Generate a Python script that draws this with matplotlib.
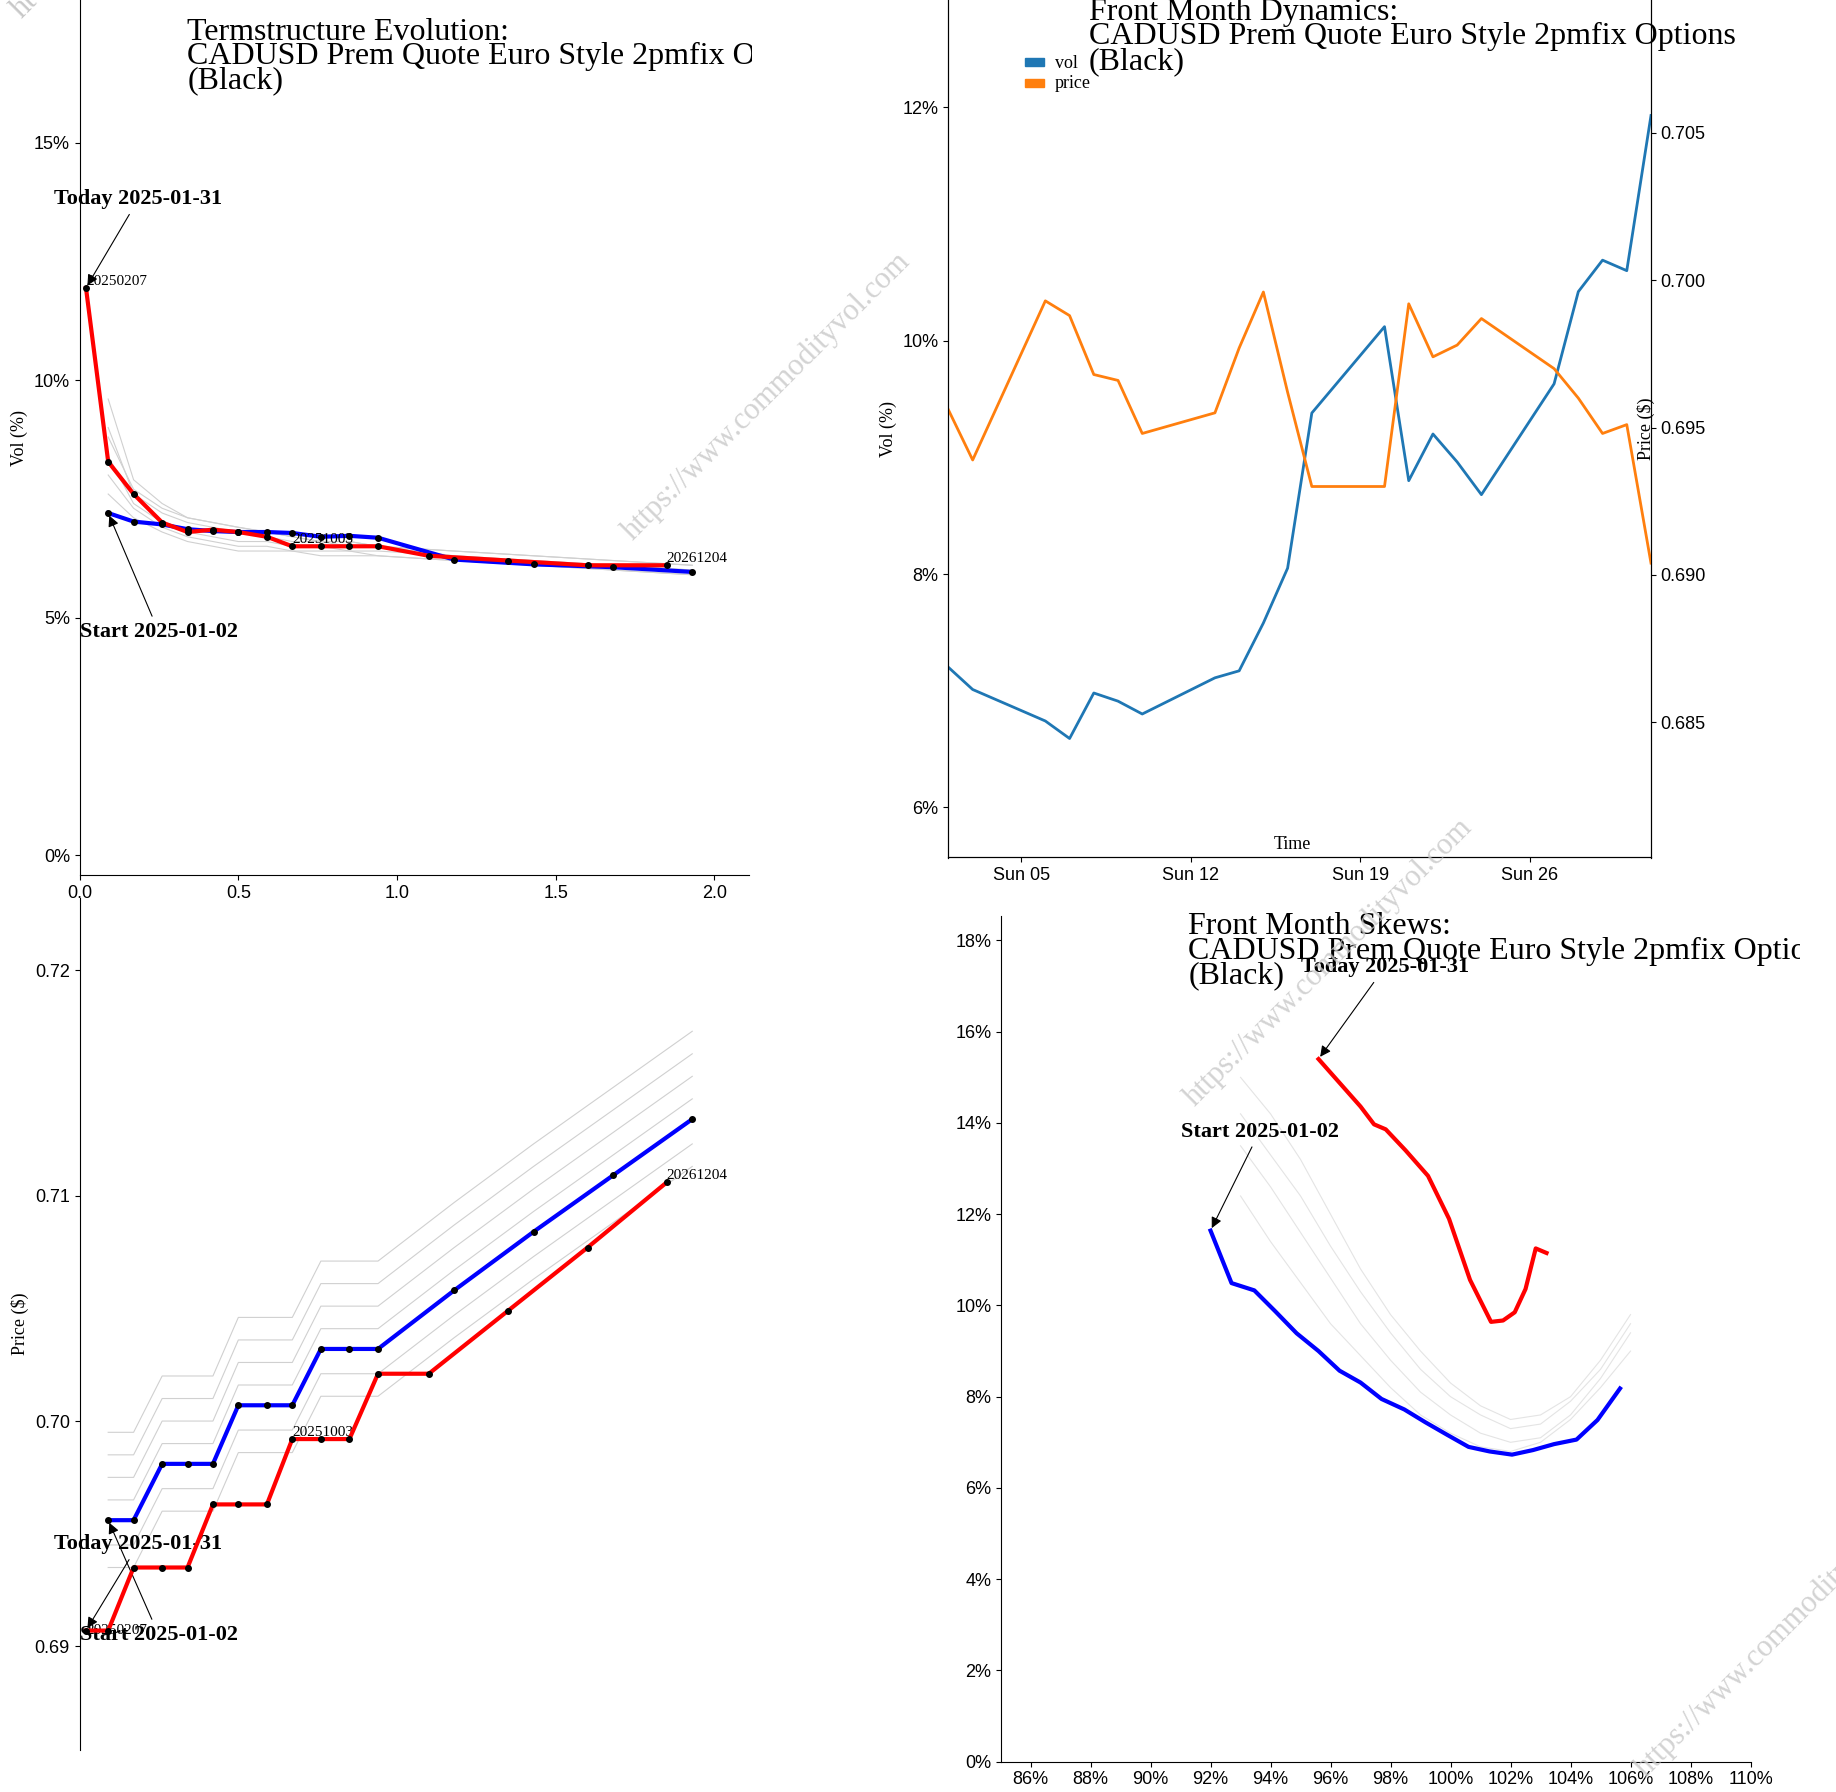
import matplotlib
matplotlib.use("Agg")
import matplotlib.pyplot as plt
import matplotlib.dates as mdates
from matplotlib.patches import Rectangle
import numpy as np
import pandas as pd

plt.rcParams['font.family'] = ['Liberation Sans', 'DejaVu Sans']
SERIF = ['Liberation Serif', 'DejaVu Serif']

# ---------------- data ----------------
ts_today_t = [0.02, 0.09, 0.17, 0.26, 0.34, 0.42, 0.50, 0.59, 0.67, 0.76, 0.85, 0.94, 1.10, 1.35, 1.60, 1.85]
ts_today_vol = [11.94, 8.28, 7.60, 7.00, 6.80, 6.85, 6.80, 6.70, 6.50, 6.50, 6.50, 6.50, 6.30, 6.20, 6.10, 6.10]
ts_start_t = [0.09, 0.17, 0.26, 0.34, 0.42, 0.50, 0.59, 0.67, 0.76, 0.85, 0.94, 1.18, 1.43, 1.68, 1.93]
ts_start_vol = [7.20, 7.02, 6.96, 6.86, 6.82, 6.80, 6.80, 6.78, 6.70, 6.72, 6.68, 6.22, 6.12, 6.06, 5.96]
ts_hist_vol = [
    [9.6, 7.9, 7.4, 7.1, 7.0, 6.9, 6.8, 6.7, 6.6, 6.6, 6.5, 6.4, 6.3, 6.2, 6.1],
    [9.0, 7.6, 7.2, 7.0, 6.9, 6.8, 6.7, 6.6, 6.6, 6.5, 6.5, 6.3, 6.2, 6.1, 6.0],
    [8.4, 7.4, 7.0, 6.8, 6.7, 6.6, 6.6, 6.5, 6.5, 6.4, 6.4, 6.3, 6.2, 6.1, 6.0],
    [8.0, 7.3, 6.9, 6.7, 6.6, 6.5, 6.5, 6.4, 6.4, 6.4, 6.3, 6.2, 6.1, 6.0, 5.9],
    [7.6, 7.1, 6.8, 6.6, 6.5, 6.4, 6.4, 6.4, 6.3, 6.3, 6.3, 6.2, 6.1, 6.0, 5.9],
    [8.8, 7.7, 7.3, 7.1, 7.0, 6.9, 6.8, 6.7, 6.6, 6.6, 6.5, 6.4, 6.3, 6.2, 6.1],
]

px_today = [0.6907, 0.6907, 0.6935, 0.6935, 0.6935, 0.6963, 0.6963, 0.6963, 0.6992, 0.6992, 0.6992, 0.7021, 0.7021, 0.7049, 0.7077, 0.7106]
px_start = [0.6956, 0.6956, 0.6981, 0.6981, 0.6981, 0.7007, 0.7007, 0.7007, 0.7032, 0.7032, 0.7032, 0.7058, 0.7084, 0.7109, 0.7134]
px_hist = [
    [0.6985, 0.6985, 0.7010, 0.7010, 0.7010, 0.7036, 0.7036, 0.7036, 0.7061, 0.7061, 0.7061, 0.7087, 0.7113, 0.7138, 0.7163],
    [0.6975, 0.6975, 0.7000, 0.7000, 0.7000, 0.7026, 0.7026, 0.7026, 0.7051, 0.7051, 0.7051, 0.7077, 0.7103, 0.7128, 0.7153],
    [0.6965, 0.6965, 0.6990, 0.6990, 0.6990, 0.7016, 0.7016, 0.7016, 0.7041, 0.7041, 0.7041, 0.7067, 0.7093, 0.7118, 0.7143],
    [0.6995, 0.6995, 0.7020, 0.7020, 0.7020, 0.7046, 0.7046, 0.7046, 0.7071, 0.7071, 0.7071, 0.7097, 0.7123, 0.7148, 0.7173],
    [0.6945, 0.6945, 0.6970, 0.6970, 0.6970, 0.6996, 0.6996, 0.6996, 0.7021, 0.7021, 0.7021, 0.7047, 0.7073, 0.7098, 0.7123],
    [0.6935, 0.6935, 0.6960, 0.6960, 0.6960, 0.6986, 0.6986, 0.6986, 0.7011, 0.7011, 0.7011, 0.7037, 0.7063, 0.7088, 0.7113],
]

fm_dates = ['2025-01-02', '2025-01-03', '2025-01-06', '2025-01-07', '2025-01-08', '2025-01-09', '2025-01-10',
            '2025-01-13', '2025-01-14', '2025-01-15', '2025-01-16', '2025-01-17', '2025-01-20', '2025-01-21',
            '2025-01-22', '2025-01-23', '2025-01-24', '2025-01-27', '2025-01-28', '2025-01-29', '2025-01-30', '2025-01-31']
fm_vol = [7.20, 7.01, 6.74, 6.59, 6.98, 6.91, 6.80, 7.11, 7.17, 7.58, 8.05, 9.38, 10.12, 8.80,
          9.20, 8.96, 8.68, 9.63, 10.42, 10.69, 10.60, 11.93]
fm_price = [0.6956, 0.6939, 0.6993, 0.6988, 0.6968, 0.6966, 0.6948, 0.6955, 0.6977, 0.6996, 0.6962, 0.6930,
            0.6930, 0.6992, 0.6974, 0.6978, 0.6987, 0.6970, 0.6960, 0.6948, 0.6951, 0.6904]

sk_today_k = [95.6, 97.0, 97.45, 97.84, 98.5, 99.25, 99.95, 100.65, 101.35, 101.75, 102.14, 102.5, 102.84, 103.2]
sk_today_v = [15.4, 14.36, 13.97, 13.86, 13.4, 12.84, 11.9, 10.56, 9.64, 9.67, 9.85, 10.36, 11.25, 11.15]
sk_start_k = [92.0, 92.7, 93.46, 94.16, 94.87, 95.6, 96.3, 97.0, 97.7, 98.46, 99.16, 99.9, 100.6, 101.3,
              102.05, 102.75, 103.45, 104.2, 104.9, 105.65]
sk_start_v = [11.64, 10.49, 10.33, 9.87, 9.39, 9.0, 8.57, 8.31, 7.95, 7.72, 7.44, 7.16, 6.9, 6.8,
              6.73, 6.83, 6.96, 7.06, 7.49, 8.18]
sk_hist_k = [93.0, 94.0, 95.0, 96.0, 97.0, 98.0, 99.0, 100.0, 101.0, 102.0, 103.0, 104.0, 105.0, 106.0]
sk_hist_v = [
    [15.0, 14.2, 13.2, 12.0, 10.8, 9.8, 9.0, 8.3, 7.8, 7.5, 7.6, 8.0, 8.8, 9.8],
    [13.5, 12.6, 11.6, 10.6, 9.6, 8.8, 8.1, 7.6, 7.2, 7.0, 7.1, 7.6, 8.4, 9.4],
    [12.4, 11.4, 10.5, 9.6, 8.9, 8.2, 7.6, 7.2, 6.9, 6.8, 7.0, 7.5, 8.2, 9.0],
    [14.2, 13.3, 12.4, 11.3, 10.3, 9.4, 8.6, 8.0, 7.6, 7.3, 7.4, 7.9, 8.6, 9.6],
]

W, H = 1568.0, 1536.0
def rect(x0, y0, x1, y1):
    return [x0 / W, 1 - y1 / H, (x1 - x0) / W, (y1 - y0) / H]

fig = plt.figure(figsize=(18.36, 17.92), dpi=100)
GREY = '#d0d0d0'

def clip_text(x, y, s, right_px):
    t = fig.text(x / W, 1 - y / H, s, fontsize=23, family=SERIF, va='top', linespacing=0.8)
    t.set_clip_path(Rectangle((0, 0), right_px / W, 1, transform=fig.transFigure))
    return t

def watermark(x, y):
    fig.text(x / W, 1 - y / H, 'https://www.commodityvol.com', fontsize=22, family=SERIF,
             color='#c8c8c8', rotation=45, ha='center', va='center', alpha=0.8)

# ---------------- top-left: term structure vol ----------------
ax1 = fig.add_axes(rect(68, 0, 640, 750))
for v in ts_hist_vol:
    ax1.plot(ts_start_t, v, color=GREY, lw=0.8, zorder=1)
ax1.plot(ts_start_t, ts_start_vol, color='blue', lw=3, zorder=3)
ax1.plot(ts_today_t, ts_today_vol, color='red', lw=3, zorder=4)
ax1.scatter(ts_start_t, ts_start_vol, color='black', s=16, zorder=5)
ax1.scatter(ts_today_t, ts_today_vol, color='black', s=16, zorder=5)
ax1.set_xlim(0, 2.11)
ax1.set_ylim(-0.42, 18.0)
ax1.set_yticks([0, 5, 10, 15])
ax1.set_yticklabels(['0%', '5%', '10%', '15%'])
ax1.set_xticks([0, 0.5, 1.0, 1.5, 2.0])
ax1.set_xticklabels(['0.0', '0.5', '1.0', '1.5', '2.0'])
ax1.set_xlabel('Time to Expiry (Yrs)', family=SERIF, fontsize=13, labelpad=0)
ax1.set_ylabel('Vol (%)', family=SERIF, fontsize=13)
for s in ['top', 'right']:
    ax1.spines[s].set_visible(False)
ax1.tick_params(labelsize=13)
ax1.annotate('Today 2025-01-31', xy=(ts_today_t[0], ts_today_vol[0]), xytext=(-0.08, 13.7),
             fontsize=16, fontweight='bold', family=SERIF,
             arrowprops=dict(arrowstyle='-|>', color='black', lw=0.8))
ax1.annotate('Start 2025-01-02', xy=(ts_start_t[0], ts_start_vol[0]), xytext=(0.0, 4.6),
             fontsize=16, fontweight='bold', family=SERIF,
             arrowprops=dict(arrowstyle='-|>', color='black', lw=0.8))
ax1.text(ts_today_t[0], ts_today_vol[0], '20250207', fontsize=11, family=SERIF, va='bottom')
ax1.text(0.67, 6.5, '20251003', fontsize=11, family=SERIF, va='bottom')
ax1.text(ts_today_t[-1], ts_today_vol[-1], '20261204', fontsize=11, family=SERIF, va='bottom')
clip_text(160, 15, 'Termstructure Evolution:\nCADUSD Prem Quote Euro Style 2pmfix Options\n(Black)', 642)

# ---------------- bottom-left: term structure price ----------------
ax3 = fig.add_axes(rect(68, 770, 640, 1500))
for p in px_hist:
    ax3.plot(ts_start_t, p, color=GREY, lw=0.8, zorder=1)
ax3.plot(ts_start_t, px_start, color='blue', lw=3, zorder=3)
ax3.plot(ts_today_t, px_today, color='red', lw=3, zorder=4)
ax3.scatter(ts_start_t, px_start, color='black', s=16, zorder=5)
ax3.scatter(ts_today_t, px_today, color='black', s=16, zorder=5)
ax3.set_xlim(0, 2.11)
ax3.set_ylim(0.6854, 0.7232)
ax3.set_yticks([0.69, 0.70, 0.71, 0.72])
ax3.set_yticklabels(['0.69', '0.70', '0.71', '0.72'])
ax3.set_xticks([])
ax3.set_ylabel('Price ($)', family=SERIF, fontsize=13)
for s in ['top', 'right', 'bottom']:
    ax3.spines[s].set_visible(False)
ax3.tick_params(labelsize=13)
ax3.annotate('Today 2025-01-31', xy=(ts_today_t[0], px_today[0]), xytext=(-0.08, 0.6943),
             fontsize=16, fontweight='bold', family=SERIF,
             arrowprops=dict(arrowstyle='-|>', color='black', lw=0.8))
ax3.annotate('Start 2025-01-02', xy=(ts_start_t[0], px_start[0]), xytext=(0.0, 0.6903),
             fontsize=16, fontweight='bold', family=SERIF,
             arrowprops=dict(arrowstyle='-|>', color='black', lw=0.8))
ax3.text(ts_today_t[0], px_today[0], '20250207', fontsize=11, family=SERIF, va='center')
ax3.text(0.67, 0.6992, '20251003', fontsize=11, family=SERIF, va='bottom')
ax3.text(ts_today_t[-1], px_today[-1], '20261204', fontsize=11, family=SERIF, va='bottom')

# ---------------- top-right: front month dynamics ----------------
dates = pd.to_datetime(fm_dates)
ax2 = fig.add_axes(rect(810, 0, 1410, 735))
ax2.plot(dates, fm_vol, color='#1f77b4', lw=2)
ax2.set_ylim(5.57, 12.92)
ax2.set_yticks([6, 8, 10, 12])
ax2.set_yticklabels(['6%', '8%', '10%', '12%'])
ax2.set_xlim(dates[0], dates[-1])
ax2.xaxis.set_major_locator(mdates.WeekdayLocator(byweekday=mdates.SU))
ax2.xaxis.set_major_formatter(mdates.DateFormatter('%a %d'))
ax2.set_ylabel('Vol (%)', family=SERIF, fontsize=13)
ax2.tick_params(labelsize=13)
ax2.spines['top'].set_visible(False)
ax2b = ax2.twinx()
ax2b.plot(dates, fm_price, color='#ff7f0e', lw=2)
ax2b.set_ylim(0.68041, 0.70951)
ax2b.set_yticks([0.685, 0.690, 0.695, 0.700, 0.705])
ax2b.set_yticklabels(['0.685', '0.690', '0.695', '0.700', '0.705'])
ax2b.set_ylabel('Price ($)', family=SERIF, fontsize=13, labelpad=-50)
ax2b.tick_params(labelsize=13)
ax2b.spines['top'].set_visible(False)
ax2.text(0.49, 0.005, 'Time', transform=ax2.transAxes, ha='center', va='bottom', family=SERIF, fontsize=13)
fig.patches.append(Rectangle((875 / W, 1 - 57 / H), 17 / W, 7 / H, color='#1f77b4', transform=fig.transFigure))
fig.patches.append(Rectangle((875 / W, 1 - 75 / H), 17 / W, 7 / H, color='#ff7f0e', transform=fig.transFigure))
fig.text(901 / W, 1 - 54 / H, 'vol', family=SERIF, fontsize=13, va='center')
fig.text(901 / W, 1 - 72 / H, 'price', family=SERIF, fontsize=13, va='center')
clip_text(930, -2, 'Front Month Dynamics:\nCADUSD Prem Quote Euro Style 2pmfix Options\n(Black)', 1568)

# ---------------- bottom-right: skews ----------------
ax4 = fig.add_axes(rect(855, 785, 1495, 1510))
for v in sk_hist_v:
    ax4.plot(sk_hist_k, v, color='#e4e4e4', lw=0.8, zorder=1)
ax4.plot(sk_start_k, sk_start_v, color='blue', lw=3, zorder=3)
ax4.plot(sk_today_k, sk_today_v, color='red', lw=3, zorder=4)
ax4.set_xlim(85.02, 110)
ax4.set_ylim(0, 18.54)
ax4.set_xticks(np.arange(86, 111, 2))
ax4.set_xticklabels([f'{k}%' for k in range(86, 111, 2)])
ax4.set_yticks(np.arange(0, 19, 2))
ax4.set_yticklabels([f'{k}%' for k in range(0, 19, 2)])
ax4.tick_params(labelsize=13)
for s in ['top', 'right']:
    ax4.spines[s].set_visible(False)
ax4.annotate('Today 2025-01-31', xy=(sk_today_k[0], sk_today_v[0]), xytext=(95.0, 17.3),
             fontsize=16, fontweight='bold', family=SERIF,
             arrowprops=dict(arrowstyle='-|>', color='black', lw=0.8))
ax4.annotate('Start 2025-01-02', xy=(sk_start_k[0], sk_start_v[0]), xytext=(91.0, 13.7),
             fontsize=16, fontweight='bold', family=SERIF,
             arrowprops=dict(arrowstyle='-|>', color='black', lw=0.8))
clip_text(1015, 782, 'Front Month Skews:\nCADUSD Prem Quote Euro Style 2pmfix Options\n(Black)', 1537)

watermark(655, 340)
watermark(1135, 825)
watermark(1520, 1400)
fig.text(5 / W, 1 - 5 / H, 'ht', fontsize=22, family=SERIF, color='#c8c8c8', rotation=45, va='center')

fig.savefig('out.png', dpi=100)
